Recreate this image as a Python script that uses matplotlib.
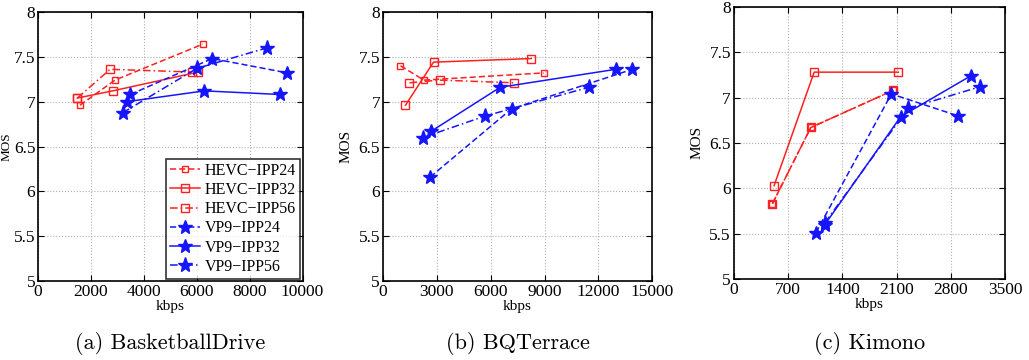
import matplotlib
matplotlib.use("Agg")
import matplotlib.pyplot as plt

plt.rcParams['font.family'] = ['Liberation Serif', 'DejaVu Serif']

# BasketballDrive
a_hevc24_x = [1584, 2908, 6225]
a_hevc24_y = [6.96, 7.24, 7.64]
a_hevc32_x = [1485, 2822, 6064]
a_hevc32_y = [7.04, 7.12, 7.33]
a_hevc56_x = [1485, 2723, 5817]
a_hevc56_y = [7.04, 7.36, 7.33]
a_vp24_x = [3490, 6584, 9431]
a_vp24_y = [7.08, 7.48, 7.32]
a_vp32_x = [3366, 6287, 9134]
a_vp32_y = [7.00, 7.12, 7.08]
a_vp56_x = [3193, 6002, 8663]
a_vp56_y = [6.875, 7.37, 7.60]

# BQTerrace
b_hevc24_x = [984, 2283, 8947]
b_hevc24_y = [7.40, 7.24, 7.32]
b_hevc32_x = [1262, 2822, 8260]
b_hevc32_y = [6.96, 7.44, 7.48]
b_hevc56_x = [1485, 3156, 7295]
b_hevc56_y = [7.21, 7.24, 7.21]
b_vp24_x = [2636, 7165, 13885]
b_vp24_y = [6.16, 6.92, 7.36]
b_vp32_x = [2692, 6534, 12957]
b_vp32_y = [6.67, 7.16, 7.36]
b_vp56_x = [2228, 5699, 11472]
b_vp56_y = [6.60, 6.84, 7.16]

# Kimono
c_hevc24_x = [499, 994, 2058]
c_hevc24_y = [5.83, 6.67, 7.08]
c_hevc32_x = [521, 1037, 2122]
c_hevc32_y = [6.03, 7.28, 7.28]
c_hevc56_x = [499, 994, 2058]
c_hevc56_y = [5.83, 6.67, 7.08]
c_vp24_x = [1059, 2032, 2884]
c_vp24_y = [5.51, 7.04, 6.80]
c_vp32_x = [1175, 2152, 3056]
c_vp32_y = [5.60, 6.79, 7.24]
c_vp56_x = [1175, 2247, 3177]
c_vp56_y = [5.62, 6.88, 7.12]

labels = ['HEVC\u2212IPP24', 'HEVC\u2212IPP32', 'HEVC\u2212IPP56',
          'VP9\u2212IPP24', 'VP9\u2212IPP32', 'VP9\u2212IPP56']
captions = ['(a) BasketballDrive', '(b) BQTerrace', '(c) Kimono']
xticks = [[0, 2000, 4000, 6000, 8000, 10000],
          [0, 3000, 6000, 9000, 12000, 15000],
          [0, 700, 1400, 2100, 2800, 3500]]
yticks = [5, 5.5, 6, 6.5, 7, 7.5, 8]
ytick_labels = ['5', '5.5', '6', '6.5', '7', '7.5', '8']

panels = [
    [(a_hevc24_x, a_hevc24_y), (a_hevc32_x, a_hevc32_y), (a_hevc56_x, a_hevc56_y),
     (a_vp24_x, a_vp24_y), (a_vp32_x, a_vp32_y), (a_vp56_x, a_vp56_y)],
    [(b_hevc24_x, b_hevc24_y), (b_hevc32_x, b_hevc32_y), (b_hevc56_x, b_hevc56_y),
     (b_vp24_x, b_vp24_y), (b_vp32_x, b_vp32_y), (b_vp56_x, b_vp56_y)],
    [(c_hevc24_x, c_hevc24_y), (c_hevc32_x, c_hevc32_y), (c_hevc56_x, c_hevc56_y),
     (c_vp24_x, c_vp24_y), (c_vp32_x, c_vp32_y), (c_vp56_x, c_vp56_y)],
]

styles = [
    dict(color='#ff2020', ls=(0, (4, 2)), marker='s', ms=5),
    dict(color='#ff2020', ls='-', marker='s', ms=6),
    dict(color='#ff2020', ls=(0, (5, 2, 1, 2)), marker='s', ms=6),
    dict(color='#1515ff', ls=(0, (4, 2)), marker='*', ms=10),
    dict(color='#1515ff', ls='-', marker='*', ms=10),
    dict(color='#1515ff', ls=(0, (5, 2, 1, 2)), marker='*', ms=11),
]

rects = [[0.037, 0.219, 0.257, 0.748],
         [0.372, 0.219, 0.262, 0.748],
         [0.713, 0.225, 0.264, 0.756]]
cap_x = [0.165, 0.503, 0.845]

fig = plt.figure(figsize=(10.29, 3.6), dpi=100)
for i in range(3):
    ax = fig.add_axes(rects[i])
    for (x, y), st in zip(panels[i], styles):
        ax.plot(x, y, color=st['color'], linestyle=st['ls'], marker=st['marker'],
                markersize=st['ms'], markerfacecolor='none' if st['marker'] == 's' else st['color'],
                markeredgecolor=st['color'], linewidth=1.1)
    ax.set_xlim(xticks[i][0], xticks[i][-1])
    ax.set_ylim(5, 8)
    ax.set_xticks(xticks[i])
    ax.set_yticks(yticks)
    ax.set_yticklabels(ytick_labels)
    ax.tick_params(direction='in', top=True, right=True, labelsize=12.5, length=4, pad=2)
    ax.grid(True, linestyle=':', color='#b0b0b0', linewidth=0.8)
    for s in ax.spines.values():
        s.set_linewidth(1.2)
    ax.set_xlabel('kbps', fontsize=11, labelpad=0)
    if i == 0:
        # first panel sits at the left edge, keep its label inside the figure
        ax.set_ylabel('MOS', fontsize=9.5)
        ax.yaxis.set_label_coords(-0.095, 0.5)
        ax.legend(labels, loc='lower right', fontsize=11.5, frameon=True, fancybox=False,
                  edgecolor='black', handlelength=1.9, borderpad=0.25, labelspacing=0.2,
                  handletextpad=0.3, borderaxespad=0.15)
        ax.get_legend().get_frame().set_linewidth(1.2)
    else:
        ax.set_ylabel('MOS', fontsize=11, labelpad=4)
    fig.text(cap_x[i], 0.03, captions[i], ha='center', fontsize=16, family='cmr10')

fig.savefig('out.png', dpi=100)
